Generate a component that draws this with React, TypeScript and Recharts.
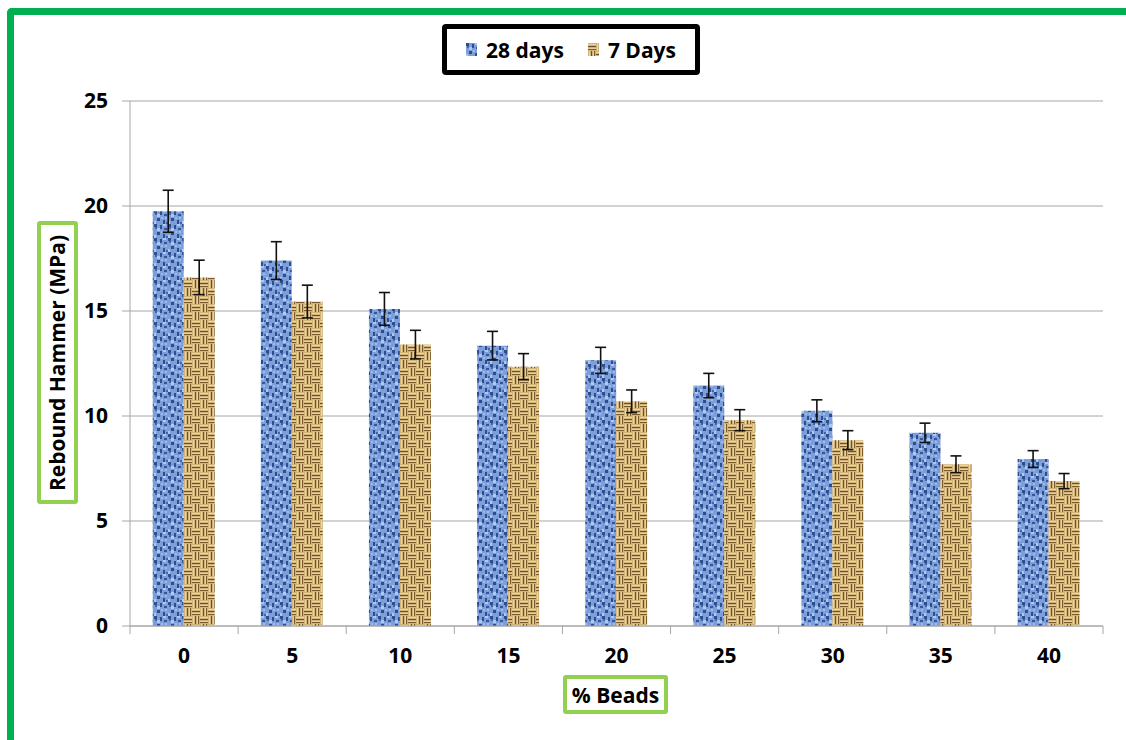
import React from 'react';
import {
  BarChart,
  Bar,
  XAxis,
  YAxis,
  CartesianGrid,
  Legend,
  ErrorBar,
} from 'recharts';

const beads = ['0', '5', '10', '15', '20', '25', '30', '35', '40'];
const days28 = [19.75, 17.4, 15.1, 13.35, 12.65, 11.45, 10.25, 9.2, 7.95];
const days7 = [16.6, 15.45, 13.4, 12.35, 10.7, 9.8, 8.85, 7.7, 6.9];
const err28 = [1.0, 0.9, 0.78, 0.68, 0.62, 0.58, 0.52, 0.46, 0.4];
const err7 = [0.82, 0.78, 0.68, 0.62, 0.54, 0.5, 0.45, 0.4, 0.36];
const yTicks = [0, 5, 10, 15, 20, 25];

const data = beads.map((b, i) => ({
  name: b,
  d28: days28[i],
  d7: days7[i],
  e28: err28[i],
  e7: err7[i],
}));

const FONT = '"Open Sans", sans-serif';
const GRID = '#a6a6a6';
const W = 1126;
const H = 740;
const LEGEND_H = 51;
// legend height is added to the bottom offset by recharts, so take it off here
const MARGIN = { top: 101, right: 23, bottom: 74 - LEGEND_H, left: 70 };
const PLOT_W = W - MARGIN.left - 60 - MARGIN.right;

function XTick(props: any) {
  const { x, y, payload, index } = props;
  const bw = PLOT_W / beads.length;
  return (
    <g>
      <line x1={x - bw / 2} x2={x - bw / 2} y1={y} y2={y + 8} stroke={GRID} />
      {index === beads.length - 1 && (
        <line x1={x + bw / 2} x2={x + bw / 2} y1={y} y2={y + 8} stroke={GRID} />
      )}
      <text
        x={x}
        y={y + 37}
        textAnchor="middle"
        fill="#000"
        fontSize={21}
        fontWeight={700}
        fontFamily={FONT}
      >
        {payload.value}
      </text>
    </g>
  );
}

function LegendBox() {
  const items = [
    { label: '28 days', fill: 'url(#tex28)' },
    { label: '7 Days', fill: 'url(#tex7)' },
  ];
  return (
    <div
      style={{
        boxSizing: 'border-box',
        width: 258,
        height: LEGEND_H,
        border: '5px solid #000',
        borderRadius: 4,
        background: '#fff',
        display: 'flex',
        alignItems: 'center',
        justifyContent: 'center',
        gap: 24,
        fontFamily: FONT,
        fontWeight: 700,
        fontSize: 21,
        color: '#000',
      }}
    >
      {items.map((it) => (
        <span key={it.label} style={{ display: 'flex', alignItems: 'center', gap: 9 }}>
          <svg width={11} height={13}>
            <rect width={11} height={13} fill={it.fill} />
          </svg>
          {it.label}
        </span>
      ))}
    </div>
  );
}

export default function App() {
  return (
    <div
      style={{
        position: 'absolute',
        left: 0,
        top: 0,
        width: W,
        height: H,
        background: '#fff',
        overflow: 'hidden',
      }}
    >
      <div
        style={{
          position: 'absolute',
          left: 7,
          top: 8,
          width: W,
          height: H,
          borderTop: '7px solid #00b050',
          borderLeft: '7px solid #00b050',
          borderTopLeftRadius: 5,
        }}
      />
      <BarChart
        width={W}
        height={H}
        data={data}
        margin={MARGIN}
        barCategoryGap="21%"
        barGap={0}
        style={{ position: 'absolute', left: 0, top: 0 }}
      >
        <defs>
          <pattern id="tex28" width={14} height={14} patternUnits="userSpaceOnUse">
            <rect width={14} height={14} fill="#7c9fd9" />
            <rect x={0} y={0} width={3} height={3} fill="#2d4d90" />
            <rect x={1} y={3} width={2} height={2} fill="#4466a8" />
            <rect x={6} y={1} width={2} height={4} fill="#2d4d90" />
            <rect x={10} y={4} width={3} height={2} fill="#35569a" />
            <rect x={3} y={8} width={3} height={3} fill="#2d4d90" />
            <rect x={9} y={10} width={2} height={4} fill="#2d4d90" />
            <rect x={12} y={12} width={2} height={2} fill="#4466a8" />
            <rect x={3} y={4} width={3} height={3} fill="#afc8f1" />
            <rect x={9} y={0} width={3} height={2} fill="#afc8f1" />
            <rect x={7} y={7} width={2} height={2} fill="#9dbbeb" />
            <rect x={0} y={11} width={2} height={3} fill="#afc8f1" />
            <rect x={11} y={7} width={2} height={2} fill="#9dbbeb" />
          </pattern>
          <pattern id="tex7" width={16} height={16} patternUnits="userSpaceOnUse">
            <rect width={16} height={16} fill="#d0b377" />
            <rect x={0} y={1} width={8} height={1} fill="#ecd6a0" />
            <rect x={0} y={3} width={8} height={1} fill="#6f5029" />
            <rect x={0} y={5} width={8} height={1} fill="#e6cf98" />
            <rect x={0} y={6} width={8} height={1} fill="#7a5a2e" />
            <rect x={9} y={0} width={1} height={8} fill="#ecd6a0" />
            <rect x={11} y={0} width={1} height={8} fill="#6f5029" />
            <rect x={13} y={0} width={1} height={8} fill="#e6cf98" />
            <rect x={14} y={0} width={1} height={8} fill="#7a5a2e" />
            <rect x={1} y={8} width={1} height={8} fill="#ecd6a0" />
            <rect x={3} y={8} width={1} height={8} fill="#6f5029" />
            <rect x={5} y={8} width={1} height={8} fill="#e6cf98" />
            <rect x={6} y={8} width={1} height={8} fill="#7a5a2e" />
            <rect x={8} y={9} width={8} height={1} fill="#ecd6a0" />
            <rect x={8} y={11} width={8} height={1} fill="#6f5029" />
            <rect x={8} y={13} width={8} height={1} fill="#e6cf98" />
            <rect x={8} y={14} width={8} height={1} fill="#7a5a2e" />
          </pattern>
        </defs>
        <CartesianGrid vertical={false} stroke={GRID} strokeWidth={1} />
        <XAxis
          dataKey="name"
          height={40}
          axisLine={{ stroke: GRID }}
          tickLine={false}
          tickSize={0}
          tickMargin={0}
          tick={<XTick />}
          interval={0}
        />
        <YAxis
          width={60}
          domain={[0, 25]}
          ticks={yTicks}
          axisLine={{ stroke: GRID }}
          tickLine={{ stroke: GRID }}
          tickSize={8}
          tickMargin={14}
          tick={{ fill: '#000', fontSize: 21, fontWeight: 700, fontFamily: FONT }}
        />
        <Legend
          content={<LegendBox />}
          wrapperStyle={{ top: 24, left: 442, width: 258, height: LEGEND_H }}
        />
        <Bar dataKey="d28" name="28 days" fill="url(#tex28)" isAnimationActive={false}>
          <ErrorBar dataKey="e28" width={5.5} stroke="#111" strokeWidth={1.6} direction="y" />
        </Bar>
        <Bar dataKey="d7" name="7 Days" fill="url(#tex7)" isAnimationActive={false}>
          <ErrorBar dataKey="e7" width={5.5} stroke="#111" strokeWidth={1.6} direction="y" />
        </Bar>
      </BarChart>
      <div
        style={{
          position: 'absolute',
          left: 37,
          top: 221,
          width: 41,
          height: 283,
          boxSizing: 'border-box',
          border: '4px solid #92d050',
          borderRadius: 3,
          background: '#fff',
          display: 'flex',
          alignItems: 'center',
          justifyContent: 'center',
        }}
      >
        <div
          style={{
            transform: 'rotate(-90deg)',
            whiteSpace: 'nowrap',
            fontFamily: FONT,
            fontWeight: 700,
            fontSize: 21,
            color: '#000',
          }}
        >
          Rebound Hammer (MPa)
        </div>
      </div>
      <div
        style={{
          position: 'absolute',
          left: 563,
          top: 675,
          width: 105,
          height: 39,
          boxSizing: 'border-box',
          border: '4px solid #92d050',
          borderRadius: 3,
          background: '#fff',
          display: 'flex',
          alignItems: 'center',
          justifyContent: 'center',
          fontFamily: FONT,
          fontWeight: 700,
          fontSize: 21,
          color: '#000',
        }}
      >
        % Beads
      </div>
    </div>
  );
}
